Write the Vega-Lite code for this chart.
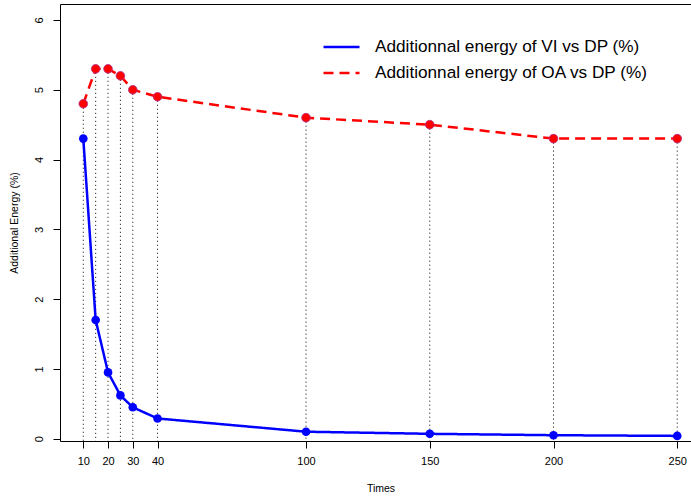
{
  "$schema": "https://vega.github.io/schema/vega-lite/v6.json",
  "autosize": "none",
  "padding": {"left": 60, "top": 4, "right": 0, "bottom": 56},
  "width": 641,
  "height": 437,
  "background": "white",
  "config": {
    "font": "Liberation Sans",
    "view": {"stroke": "black", "strokeWidth": 1},
    "axis": {"grid": false, "domain": false, "tickColor": "black", "tickSize": 7, "tickWidth": 1, "labelColor": "black", "titleColor": "black", "labelFont": "Liberation Sans", "titleFont": "Liberation Sans", "titleFontWeight": "normal", "labelFontSize": 11, "titleFontSize": 10.5},
    "legend": {"labelFont": "Liberation Sans"}
  },
  "data": {
    "values": [
      {"t": 10, "series": "Additionnal energy of VI vs DP (%)", "value": 4.3},
      {"t": 15, "series": "Additionnal energy of VI vs DP (%)", "value": 1.7},
      {"t": 20, "series": "Additionnal energy of VI vs DP (%)", "value": 0.95},
      {"t": 25, "series": "Additionnal energy of VI vs DP (%)", "value": 0.62},
      {"t": 30, "series": "Additionnal energy of VI vs DP (%)", "value": 0.45},
      {"t": 40, "series": "Additionnal energy of VI vs DP (%)", "value": 0.29},
      {"t": 100, "series": "Additionnal energy of VI vs DP (%)", "value": 0.1},
      {"t": 150, "series": "Additionnal energy of VI vs DP (%)", "value": 0.07},
      {"t": 200, "series": "Additionnal energy of VI vs DP (%)", "value": 0.05},
      {"t": 250, "series": "Additionnal energy of VI vs DP (%)", "value": 0.04},
      {"t": 10, "series": "Additionnal energy of OA vs DP (%)", "value": 4.8},
      {"t": 15, "series": "Additionnal energy of OA vs DP (%)", "value": 5.3},
      {"t": 20, "series": "Additionnal energy of OA vs DP (%)", "value": 5.3},
      {"t": 25, "series": "Additionnal energy of OA vs DP (%)", "value": 5.2},
      {"t": 30, "series": "Additionnal energy of OA vs DP (%)", "value": 5.0},
      {"t": 40, "series": "Additionnal energy of OA vs DP (%)", "value": 4.9},
      {"t": 100, "series": "Additionnal energy of OA vs DP (%)", "value": 4.6},
      {"t": 150, "series": "Additionnal energy of OA vs DP (%)", "value": 4.5},
      {"t": 200, "series": "Additionnal energy of OA vs DP (%)", "value": 4.3},
      {"t": 250, "series": "Additionnal energy of OA vs DP (%)", "value": 4.3}
    ]
  },
  "encoding": {
    "x": {"field": "t", "type": "quantitative", "scale": {"domain": [0.586, 259.6], "nice": false, "zero": false}, "axis": {"values": [10, 20, 30, 40, 100, 150, 200, 250], "title": "Times", "labelPadding": 7, "titleY": 42, "labelFlush": false}},
    "y": {"field": "value", "type": "quantitative", "scale": {"domain": [-0.033, 6.229], "nice": false, "zero": false}, "axis": {"values": [0, 1, 2, 3, 4, 5, 6], "title": "Additional Energy (%)", "labelAngle": -90, "labelAlign": "center", "labelBaseline": "bottom", "labelPadding": 9, "titleX": -41, "labelFlush": false}}
  },
  "layer": [
    {
      "transform": [{"filter": "datum.series === 'Additionnal energy of OA vs DP (%)'"}],
      "mark": {"type": "rule", "color": "black", "strokeWidth": 1, "strokeDash": [1, 3]},
      "encoding": {"y2": {"datum": -0.033}}
    },
    {
      "mark": {"type": "line", "strokeWidth": 2.5},
      "encoding": {
        "color": {"field": "series", "type": "nominal", "scale": {"domain": ["Additionnal energy of VI vs DP (%)", "Additionnal energy of OA vs DP (%)"], "range": ["#0000ff", "#ff0000"]}, "legend": {"title": null, "orient": "none", "legendX": 262, "legendY": 30, "symbolType": "stroke", "symbolSize": 1296, "symbolStrokeWidth": 2.5, "clipHeight": 26, "labelFontSize": 17.2, "labelOffset": 14, "labelLimit": 0, "padding": 0, "rowPadding": 0, "labelColor": "black"}},
        "strokeDash": {"field": "series", "type": "nominal", "scale": {"domain": ["Additionnal energy of VI vs DP (%)", "Additionnal energy of OA vs DP (%)"], "range": [[1, 0], [10, 6]]}, "legend": {"title": null, "orient": "none", "legendX": 262, "legendY": 30, "symbolType": "stroke", "symbolSize": 1296, "symbolStrokeWidth": 2.5, "clipHeight": 26, "labelFontSize": 17.2, "labelOffset": 14, "labelLimit": 0, "padding": 0, "rowPadding": 0, "labelColor": "black"}}
      }
    },
    {
      "transform": [{"filter": "datum.series === 'Additionnal energy of VI vs DP (%)'"}],
      "mark": {"type": "point", "filled": true, "shape": "circle", "size": 75, "color": "#0000ff", "opacity": 1}
    },
    {
      "transform": [{"filter": "datum.series === 'Additionnal energy of OA vs DP (%)'"}],
      "mark": {"type": "point", "shape": "circle", "size": 75, "fill": "#ff0000", "fillOpacity": 1, "stroke": "#b02a8a", "strokeWidth": 0.8, "opacity": 1}
    }
  ]
}
